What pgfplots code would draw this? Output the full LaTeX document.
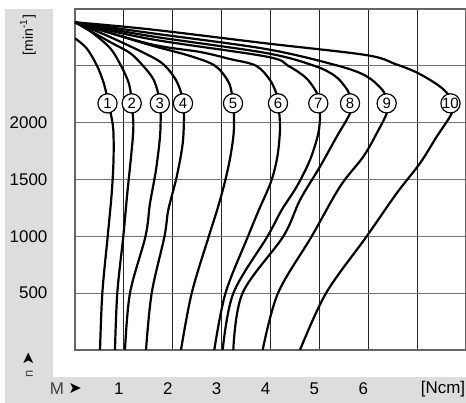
\documentclass[border=0pt]{standalone}
\usepackage{fontspec}
\setmainfont{Liberation Sans}
\newfontfamily\symfont{DejaVu Sans}
\usepackage{pgfplots}
\pgfplotsset{compat=1.18}
\definecolor{panel}{RGB}{220,221,223}

\begin{document}
\begin{tikzpicture}
\useasboundingbox (-37.5bp,-26.5bp) rectangle (195.5bp,175bp);
% grey frame for the axis texts
\fill[panel] (-35bp,-26.5bp) rectangle (-11bp,170.5bp);
\fill[panel] (-35bp,-26.5bp) rectangle (195.5bp,-13.5bp);
\begin{axis}[
    scale only axis,
    width=195.5bp, height=170.5bp,
    xmin=0, xmax=8, ymin=0, ymax=3000,
    xtick={0,1,...,8}, xticklabels={,1,2,3,4,5,6,,},
    ytick={0,500,...,3000}, yticklabels={,500,1000,1500,2000,,},
    major tick length=0pt,
    grid=major,
    x grid style={black!85, line width=0.5bp},
    y grid style={black!55, line width=0.55bp},
    axis line style={black!60, line width=0.7bp},
    tick label style={font=\fontsize{8.5}{10}\selectfont, inner sep=0pt},
    xticklabel style={anchor=center, yshift=-19.5bp, xshift=-2.5bp},
    yticklabel style={anchor=east, xshift=-13.6bp},
    mc/.style={black, line width=1.1bp, smooth, tension=0.55, no marks},
]
% 1
\addplot[mc] coordinates {(0,2742) (0.239,2654) (0.450,2501) (0.579,2360) (0.645,2250) (0.675,2170) (0.730,2082) (0.784,1935) (0.788,1672) (0.751,1379) (0.669,1000) (0.559,500) (0.512,0)};
% 2
\addplot[mc] coordinates {(0,2883) (0.307,2806) (0.716,2657) (0.941,2501) (1.091,2360) (1.146,2250) (1.166,2170) (1.181,2082) (1.193,1935) (1.140,1672) (1.070,1379) (0.988,1000) (0.865,500) (0.818,0)};
% 3
\addplot[mc] coordinates {(0,2883) (0.716,2710) (1.125,2613) (1.391,2501) (1.602,2384) (1.708,2250) (1.739,2170) (1.753,2082) (1.739,1877) (1.657,1584) (1.535,1291) (1.442,1000) (1.125,500) (1.023,0)};
% 4
\addplot[mc] coordinates {(0,2883) (0.716,2754) (1.535,2587) (1.841,2501) (2.066,2375) (2.179,2252) (2.210,2170) (2.230,2082) (2.204,1818) (2.081,1525) (1.909,1232) (1.831,1000) (1.569,500) (1.453,0)};
% 5
\addplot[mc] coordinates {(0,2883) (0.716,2789) (1.535,2683) (2.353,2587) (2.864,2501) (3.130,2367) (3.212,2252) (3.233,2170) (3.253,2082) (3.245,1900) (3.170,1680) (3.050,1450) (2.900,1220) (2.738,1000) (2.388,500) (2.168,0)};
% 6
\addplot[mc] coordinates {(0,2883) (1.535,2692) (2.558,2622) (3.171,2560) (3.703,2501) (3.990,2375) (4.123,2252) (4.153,2170) (4.180,2082) (4.194,1935) (4.140,1700) (4.010,1480) (3.760,1230) (3.540,1000) (3.079,500) (2.850,0)};
% 7
\addplot[mc] coordinates {(0,2883) (1.535,2736) (3.908,2582) (4.358,2501) (4.706,2402) (4.890,2305) (4.962,2243) (4.978,2170) (5.013,2067) (4.978,1906) (4.808,1672) (4.536,1437) (4.229,1232) (3.939,1000) (3.240,500) (3.022,0)};
% 8
\addplot[mc] coordinates {(0,2883) (1.535,2762) (3.908,2613) (4.890,2501) (5.320,2411) (5.545,2305) (5.616,2243) (5.627,2170) (5.627,2082) (5.355,1877) (5.013,1613) (4.604,1320) (4.262,1000) (3.427,500) (3.239,0)};
% 9
\addplot[mc] coordinates {(0,2883) (1.535,2789) (3.908,2648) (5.381,2501) (5.954,2411) (6.261,2302) (6.353,2235) (6.377,2170) (6.377,2082) (6.173,1906) (5.899,1701) (5.422,1437) (4.843,1000) (4.153,500) (3.840,0)};
% 10
\addplot[mc] coordinates {(0,2883) (1.535,2821) (3.908,2698) (5.954,2595) (6.560,2515) (7.000,2440) (7.430,2330) (7.640,2245) (7.683,2170) (7.707,2082) (7.401,1877) (7.059,1643) (6.582,1379) (5.968,1000) (5.136,500) (4.604,0)};
% curve numbers
\addplot[draw=none, no marks, point meta=explicit symbolic, nodes near coords,
    nodes near coords style={anchor=center, circle, draw=black, fill=white,
        line width=0.6bp, inner sep=-2bp, minimum size=9.6bp,
        font=\fontsize{7.5}{8}\selectfont}]
    coordinates {(0.665,2170)[1] (1.160,2170)[2] (1.735,2170)[3] (2.210,2170)[4]
        (3.233,2170)[5] (4.153,2170)[6] (4.978,2170)[7] (5.627,2170)[8]
        (6.377,2170)[9] (7.683,2170)[10]};
\end{axis}
\node[font=\fontsize{8.5}{10}\selectfont] at (184bp,-19.5bp) {[Ncm]};
\node[font=\fontsize{8.5}{10}\selectfont, text=black!75] at (-9bp,-19.5bp) {M};
\node[font=\symfont\fontsize{8}{9}\selectfont] at (0bp,-19.5bp) {➤};
\node[font=\symfont\fontsize{8}{9}\selectfont, rotate=90] at (-23.25bp,-4.5bp) {➤};
\node[font=\fontsize{6.5}{8}\selectfont, rotate=90, text=black!75] at (-22.75bp,-12bp) {n};
\node[font=\fontsize{7}{8}\selectfont, rotate=90] at (-23.5bp,157.5bp) {[min\textsuperscript{-1}]};
\end{tikzpicture}
\end{document}
